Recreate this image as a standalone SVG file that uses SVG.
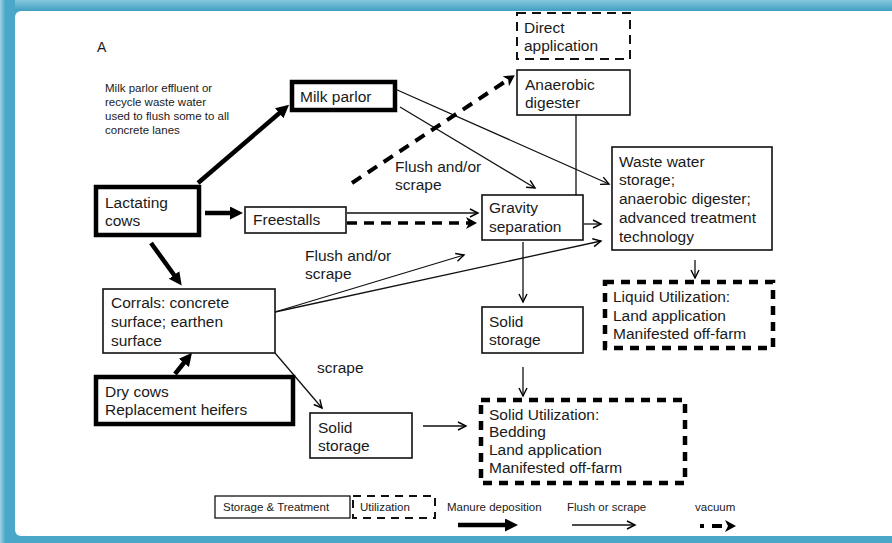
<svg xmlns="http://www.w3.org/2000/svg" width="892" height="543" viewBox="0 0 892 543">
<defs>
<linearGradient id="topg" x1="0" y1="0" x2="0" y2="1">
<stop offset="0" stop-color="#86c7dd"/><stop offset="1" stop-color="#3f9fc2"/>
</linearGradient>
<linearGradient id="leftg" x1="0" y1="0" x2="1" y2="0">
<stop offset="0" stop-color="#9fd3e4"/><stop offset="0.35" stop-color="#4aa7c7"/><stop offset="1" stop-color="#4aa7c7"/>
</linearGradient>
<marker id="thick" markerUnits="userSpaceOnUse" markerWidth="14" markerHeight="14" refX="5" refY="6.5" orient="auto">
<path d="M0,0 L13,6.5 L0,13 z" fill="#000"/>
</marker>
<marker id="thin" markerUnits="userSpaceOnUse" markerWidth="12" markerHeight="12" refX="9" refY="5" orient="auto">
<path d="M1,1 L9,5 L1,9" fill="none" stroke="#000" stroke-width="1.4"/>
</marker>
<marker id="vac" markerUnits="userSpaceOnUse" markerWidth="14" markerHeight="14" refX="4" refY="6" orient="auto">
<path d="M0,0 L11,6 L0,12 L3,6 z" fill="#000"/>
</marker>
<style>
text{font-family:"Liberation Sans",Arial,sans-serif;fill:#1a1a1a}
.t{font-size:15.5px}
.s{font-size:11.5px}
.box{fill:#fff;stroke:#111;stroke-width:1.6}
.bold{fill:#fff;stroke:#000;stroke-width:4.5}
.util{fill:#fff;stroke:#000;stroke-width:4.5;stroke-dasharray:9 7}
.dir{fill:#fff;stroke:#111;stroke-width:2;stroke-dasharray:9 6}
.lt{fill:none;stroke:#111;stroke-width:1.3;marker-end:url(#thin)}
.lk{fill:none;stroke:#000;stroke-width:4.5;marker-end:url(#thick)}
.lv{fill:none;stroke:#000;stroke-width:4;stroke-dasharray:11 8;marker-end:url(#vac)}
</style>
</defs>
<g id="frame">
<rect x="0" y="0" width="892" height="543" fill="#4aa7c7"/>
<rect x="0" y="0" width="892" height="11" fill="url(#topg)"/>
<rect x="0" y="0" width="15" height="543" fill="url(#leftg)"/>
<rect x="15" y="11" width="900" height="525" rx="6" fill="#fff"/>
</g>
<text x="97" y="52" style="font-size:14px">A</text>
<g id="note">
<text class="s" x="105" y="92">Milk parlor effluent or</text>
<text class="s" x="105" y="106">recycle  waste water</text>
<text class="s" x="105" y="120">used to flush some to all</text>
<text class="s" x="105" y="134">concrete lanes</text>
</g>
<g id="connectors">
<line class="lk" x1="198" y1="183" x2="283" y2="110"/>
<line class="lk" x1="205" y1="213" x2="235" y2="213"/>
<line class="lk" x1="151" y1="243" x2="177" y2="279"/>
<line class="lk" x1="175" y1="374" x2="187" y2="359"/>
<line class="lt" x1="395" y1="89" x2="609" y2="184"/>
<line class="lt" x1="400" y1="107" x2="535" y2="188"/>
<line class="lv" x1="352" y1="183" x2="509" y2="79"/>
<line class="lt" x1="347" y1="213" x2="478" y2="213"/>
<line class="lv" x1="347" y1="223" x2="470" y2="223" style="stroke-width:3.5;stroke-dasharray:10 7"/>
<line x1="576" y1="115" x2="576" y2="197" stroke="#111" stroke-width="1.3"/>
<polyline points="572,202 576,195 580,202" fill="none" stroke="#111" stroke-width="1.3"/>
<line class="lt" x1="584" y1="224" x2="601" y2="224"/>
<line class="lt" x1="275" y1="312" x2="464" y2="255"/>
<line class="lt" x1="275" y1="312" x2="601" y2="241"/>
<line class="lt" x1="523" y1="242" x2="523" y2="302"/>
<line class="lt" x1="695" y1="260" x2="695" y2="278"/>
<line class="lt" x1="275" y1="353" x2="322" y2="408"/>
<line class="lt" x1="423" y1="426" x2="466" y2="426"/>
<line class="lt" x1="523" y1="367" x2="523" y2="396"/>
</g>
<g id="direct-application">
<rect class="dir" x="517" y="13" width="113" height="46"/>
<text class="t" x="524" y="33">Direct</text>
<text class="t" x="524" y="51">application</text>
</g>
<g id="anaerobic-digester">
<rect class="box" x="517" y="70" width="113" height="45"/>
<text class="t" x="525" y="90">Anaerobic</text>
<text class="t" x="525" y="108">digester</text>
</g>
<g id="milk-parlor">
<rect class="bold" x="292" y="82" width="103" height="28"/>
<text class="t" x="300" y="102">Milk parlor</text>
</g>
<g id="flush-label-1">
<text class="t" x="395" y="172">Flush and/or</text>
<text class="t" x="395" y="190">scrape</text>
</g>
<g id="lactating-cows">
<rect class="bold" x="96" y="187" width="103" height="48"/>
<text class="t" x="105" y="208">Lactating</text>
<text class="t" x="105" y="226">cows</text>
</g>
<g id="freestalls">
<rect class="box" x="245" y="207" width="101" height="26"/>
<text class="t" x="253" y="225">Freestalls</text>
</g>
<g id="gravity-separation">
<rect class="box" x="482" y="195" width="101" height="45"/>
<text class="t" x="489" y="213">Gravity</text>
<text class="t" x="489" y="232">separation</text>
</g>
<g id="waste-water-storage">
<rect class="box" x="612" y="147" width="160" height="103"/>
<text class="t" x="619" y="167">Waste water</text>
<text class="t" x="619" y="185">storage;</text>
<text class="t" x="619" y="204">anaerobic digester;</text>
<text class="t" x="619" y="223">advanced treatment</text>
<text class="t" x="619" y="242">technology</text>
</g>
<g id="flush-label-2">
<text class="t" x="305" y="261">Flush and/or</text>
<text class="t" x="305" y="279">scrape</text>
</g>
<g id="liquid-utilization">
<rect class="util" x="605" y="282" width="168" height="66"/>
<text class="t" x="613" y="302">Liquid Utilization:</text>
<text class="t" x="613" y="321">Land application</text>
<text class="t" x="613" y="339">Manifested off-farm</text>
</g>
<g id="corrals">
<rect class="box" x="103" y="289" width="172" height="64"/>
<text class="t" x="111" y="308">Corrals: concrete</text>
<text class="t" x="111" y="327">surface; earthen</text>
<text class="t" x="111" y="346">surface</text>
</g>
<g id="solid-storage-1">
<rect class="box" x="482" y="307" width="101" height="46"/>
<text class="t" x="489" y="327">Solid</text>
<text class="t" x="489" y="345">storage</text>
</g>
<text class="t" x="317" y="373">scrape</text>
<g id="dry-cows">
<rect class="bold" x="96" y="377" width="197" height="47"/>
<text class="t" x="105" y="397">Dry cows</text>
<text class="t" x="105" y="415">Replacement heifers</text>
</g>
<g id="solid-storage-2">
<rect class="box" x="310" y="413" width="102" height="45"/>
<text class="t" x="318" y="433">Solid</text>
<text class="t" x="318" y="451">storage</text>
</g>
<g id="solid-utilization">
<rect class="util" x="481" y="400" width="204" height="83"/>
<text class="t" x="489" y="420">Solid Utilization:</text>
<text class="t" x="489" y="437">Bedding</text>
<text class="t" x="489" y="455">Land application</text>
<text class="t" x="489" y="473">Manifested off-farm</text>
</g>
<g id="legend">
<rect x="215" y="496" width="135" height="22" fill="#fff" stroke="#111" stroke-width="1.3"/>
<text class="s" x="223" y="511">Storage &amp; Treatment</text>
<rect x="353" y="496" width="82" height="22" fill="#fff" stroke="#111" stroke-width="2" stroke-dasharray="8 6"/>
<text class="s" x="360" y="511">Utilization</text>
<text class="s" x="447" y="511">Manure deposition</text>
<line class="lk" x1="458" y1="525" x2="510" y2="525"/>
<text class="s" x="567" y="511">Flush or scrape</text>
<line class="lt" x1="572" y1="525" x2="635" y2="525"/>
<text class="s" x="695" y="511">vacuum</text>
<line x1="700" y1="526" x2="729" y2="526" stroke="#000" stroke-width="4" stroke-dasharray="4 8 10 20" marker-end="url(#vac)"/>
</g>
</svg>
